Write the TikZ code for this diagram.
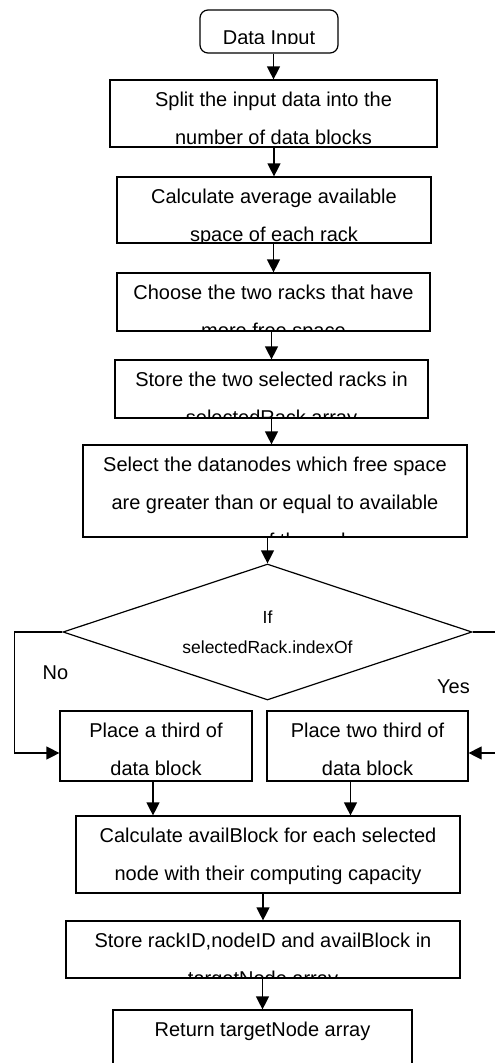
\documentclass[tikz,border=0pt]{standalone}
\usepackage{fontspec}
\setmainfont{Liberation Sans}
\usetikzlibrary{shapes.geometric,arrows.meta}

% text of a box, cut off at the box border
\newcommand{\boxtext}[3][-12pt]{%
	\begin{scope}
		\clip (#2.south west) rectangle (#2.north east);
		\node[txt, anchor=north, yshift=#1] (#2-text) at (#2.north) {#3};
	\end{scope}}

\tikzset{
	box/.style={draw, line width=1.2pt, rectangle, inner sep=0pt},
	txt/.style={align=center, inner sep=0pt, font=\fontsize{20}{38}\selectfont},
	arr/.style={-{Triangle[length=13pt,width=13pt]}, line width=1.2pt},
}

\begin{document}
\begin{tikzpicture}[x=1pt,y=-1pt]
	\useasboundingbox (0,0) rectangle (495,1063);

	\node[box, rounded corners=8pt, minimum width=138pt, minimum height=43pt] (input) at (269,31.5) {};
	\node[box, minimum width=327pt, minimum height=67pt] (split) at (273.5,113.5) {};
	\node[box, minimum width=314pt, minimum height=66pt] (avg) at (274,210) {};
	\node[box, minimum width=313pt, minimum height=58pt] (choose) at (273.5,302) {};
	\node[box, minimum width=313pt, minimum height=58pt] (store) at (271.5,389) {};
	\node[box, minimum width=384pt, minimum height=92pt] (select) at (275,491) {};
	\node[box, diamond, aspect=3, minimum width=409pt, minimum height=136pt,
		font=\fontsize{17.5}{30}\selectfont, align=center] (cond) at (267.5,632)
		{If\\selectedRack.indexOf};
	\node[box, minimum width=192pt, minimum height=70pt] (third) at (156,746) {};
	\node[box, minimum width=201pt, minimum height=70pt] (twothird) at (367.5,746) {};
	\node[box, minimum width=384pt, minimum height=77pt] (avail) at (268,854.5) {};
	\node[box, minimum width=394pt, minimum height=57pt] (target) at (263,949.5) {};
	\node[box, minimum width=299pt, minimum height=80pt] (return) at (262.5,1050) {};

	% the start box cuts its text off above its border
	\begin{scope}
		\clip ([yshift=10pt]input.south west) rectangle (input.north east);
		\node[txt, anchor=north, yshift=-21pt] (input-text) at (input.north) {Data Input};
	\end{scope}
	\boxtext{split}{Split the input data into the\\number of data blocks}
	\boxtext{avg}{Calculate average available\\space of each rack}
	\boxtext{choose}{Choose the two racks that have\\more free space}
	\boxtext{store}{Store the two selected racks in\\selectedRack array}
	\boxtext{select}{Select the datanodes which free space\\are greater than or equal to available\\space of the rack}
	\boxtext{third}{Place a third of\\data block}
	\boxtext{twothird}{Place two third of\\data block}
	\boxtext{avail}{Calculate availBlock for each selected\\node with their computing capacity}
	\boxtext{target}{Store rackID,nodeID and availBlock in\\targetNode array}
	\boxtext{return}{Return targetNode array}

	\node[txt] (no) at (55.5,672.5) {No};
	\node[txt] (yes) at (453.5,686.5) {Yes};

	% connectors
	\draw[arr] (split.north |- input.south) -- (split.north);
	\draw[arr] (avg.north |- split.south) -- (avg.north);
	\draw[arr] (choose.north |- avg.south) -- (choose.north);
	\draw[arr] (store.north |- choose.south) -- (store.north);
	\draw[arr] (store.south) -- (store.south |- select.north);
	\draw[arr] (cond.north |- select.south) -- (cond.north);
	\draw[arr] (cond.west) -- ++(-48,0) |- ([yshift=-7pt]third.west);
	\draw[arr] (cond.east) -- ++(45,0) |- ([yshift=-7pt]twothird.east);
	\draw[arr] ([xshift=-3pt]third.south) -- ([xshift=-3pt]third.south |- avail.north);
	\draw[arr] ([xshift=-17pt]twothird.south) -- ([xshift=-17pt]twothird.south |- avail.north);
	\draw[arr] (target.north |- avail.south) -- (target.north);
	\draw[arr] (return.north |- target.south) -- (return.north);
\end{tikzpicture}
\end{document}
